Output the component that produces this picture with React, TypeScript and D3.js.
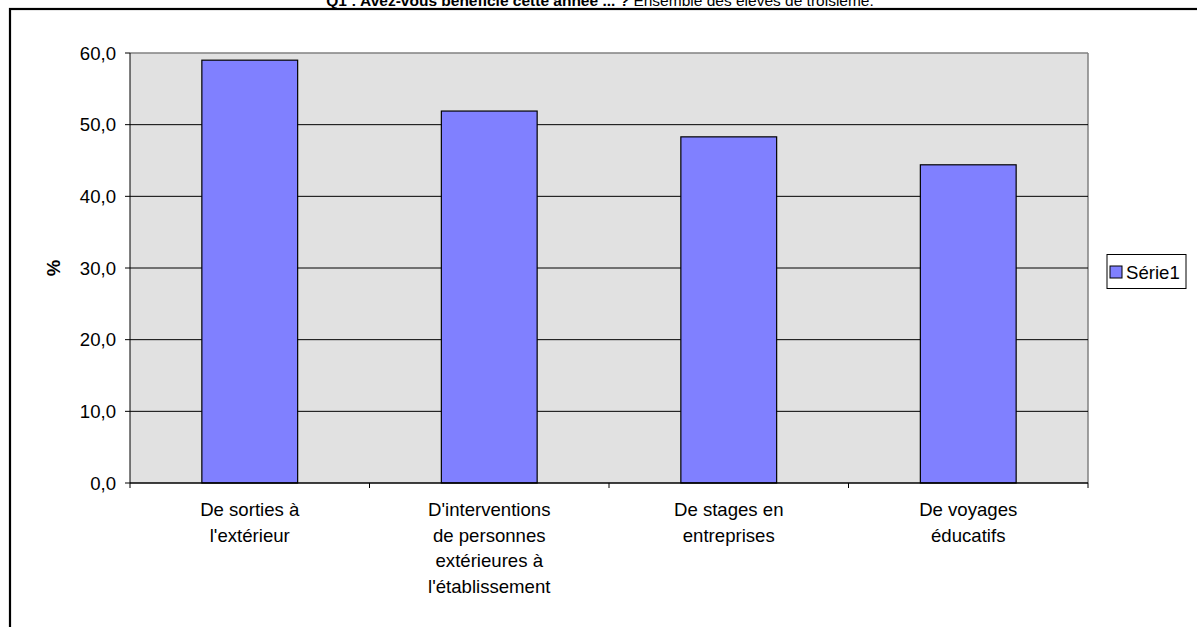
import React from "react";
import * as d3 from "d3";

const categories = [
  "De sorties à\nl'extérieur",
  "D'interventions\nde personnes\nextérieures à\nl'établissement",
  "De stages en\nentreprises",
  "De voyages\néducatifs",
];
const values = [59.0, 51.9, 48.3, 44.4];
const yTicks = [0, 10, 20, 30, 40, 50, 60];
const seriesName = "Série1";
const titleBold = "Q1 : Avez-vous bénéficié cette année ... ?";
const titleNormal = " Ensemble des élèves de troisième.";

const W = 1197;
const H = 627;
const plot = { left: 130, right: 1088, top: 53, bottom: 483 };
const FONT = "Arial, 'Liberation Sans', sans-serif";
const FS = 18.6;

export default function App() {
  const x = d3
    .scaleBand<string>()
    .domain(categories)
    .range([plot.left, plot.right])
    .paddingInner(0)
    .paddingOuter(0);
  const y = d3.scaleLinear().domain([0, 60]).range([plot.bottom, plot.top]);
  const bw = x.bandwidth() * 0.4;

  return (
    <svg
      width={W}
      height={H}
      style={{ position: "absolute", left: 0, top: 0, background: "#fff" }}
      fontFamily={FONT}
    >
      <rect x={0} y={0} width={W} height={H} fill="#fff" />
      {/* outer frame */}
      <rect x={10} y={9} width={W + 20} height={H + 20} fill="none" stroke="#000" strokeWidth={2.2} />
      {/* title */}
      <text x={600} y={6} textAnchor="middle" fontSize={15.5} fill="#000">
        <tspan fontWeight="bold">{titleBold}</tspan>
        <tspan>{titleNormal}</tspan>
      </text>
      {/* plot background */}
      <rect
        x={plot.left}
        y={plot.top}
        width={plot.right - plot.left}
        height={plot.bottom - plot.top}
        fill="#e1e1e1"
      />
      {/* plot top/right border */}
      <line x1={plot.left} x2={plot.right} y1={plot.top} y2={plot.top} stroke="#808080" strokeWidth={1.5} />
      <line x1={plot.right} x2={plot.right} y1={plot.top} y2={plot.bottom} stroke="#808080" strokeWidth={1.5} />
      {/* gridlines */}
      {yTicks
        .filter((t) => t > 0 && t < 60)
        .map((t) => (
          <line key={t} x1={plot.left} x2={plot.right} y1={y(t)} y2={y(t)} stroke="#000" strokeWidth={1} />
        ))}
      {/* bars */}
      {categories.map((c, i) => {
        const cx = (x(c) as number) + x.bandwidth() / 2;
        return (
          <rect
            key={c}
            x={cx - bw / 2}
            y={y(values[i])}
            width={bw}
            height={y(0) - y(values[i])}
            fill="#8080ff"
            stroke="#000"
            strokeWidth={1.2}
          />
        );
      })}
      {/* y axis */}
      <line x1={plot.left} x2={plot.left} y1={plot.top} y2={plot.bottom} stroke="#000" strokeWidth={1} />
      {yTicks.map((t) => (
        <g key={t}>
          <line x1={plot.left - 5} x2={plot.left} y1={y(t)} y2={y(t)} stroke="#000" />
          <text x={116} y={y(t)} dy="0.36em" textAnchor="end" fontSize={FS} fill="#000">
            {t.toFixed(1).replace(".", ",")}
          </text>
        </g>
      ))}
      {/* x axis */}
      <line x1={plot.left} x2={plot.right} y1={plot.bottom} y2={plot.bottom} stroke="#000" strokeWidth={1.5} />
      {categories.map((c) => (
        <line key={c} x1={x(c)} x2={x(c)} y1={plot.bottom} y2={plot.bottom + 5} stroke="#000" />
      ))}
      <line x1={plot.right} x2={plot.right} y1={plot.bottom} y2={plot.bottom + 5} stroke="#000" />
      {categories.map((c) => {
        const cx = (x(c) as number) + x.bandwidth() / 2;
        return (
          <text key={c} x={cx} y={516} textAnchor="middle" fontSize={FS} fill="#000">
            {c.split("\n").map((ln, j) => (
              <tspan key={j} x={cx} y={516 + j * 25.5}>
                {ln}
              </tspan>
            ))}
          </text>
        );
      })}
      {/* y title */}
      <text
        transform={`translate(60,${(plot.top + plot.bottom) / 2}) rotate(-90)`}
        textAnchor="middle"
        fontSize={FS}
        fontWeight="bold"
        fill="#000"
      >
        %
      </text>
      {/* legend */}
      <rect x={1107} y={254.5} width={79} height={34} fill="#fff" stroke="#000" strokeWidth={1} />
      <rect x={1110} y={266} width={12} height={12} fill="#8080ff" stroke="#000" strokeWidth={1} />
      <text x={1126} y={272} dy="0.36em" fontSize={FS} fill="#000">
        {seriesName}
      </text>
    </svg>
  );
}
